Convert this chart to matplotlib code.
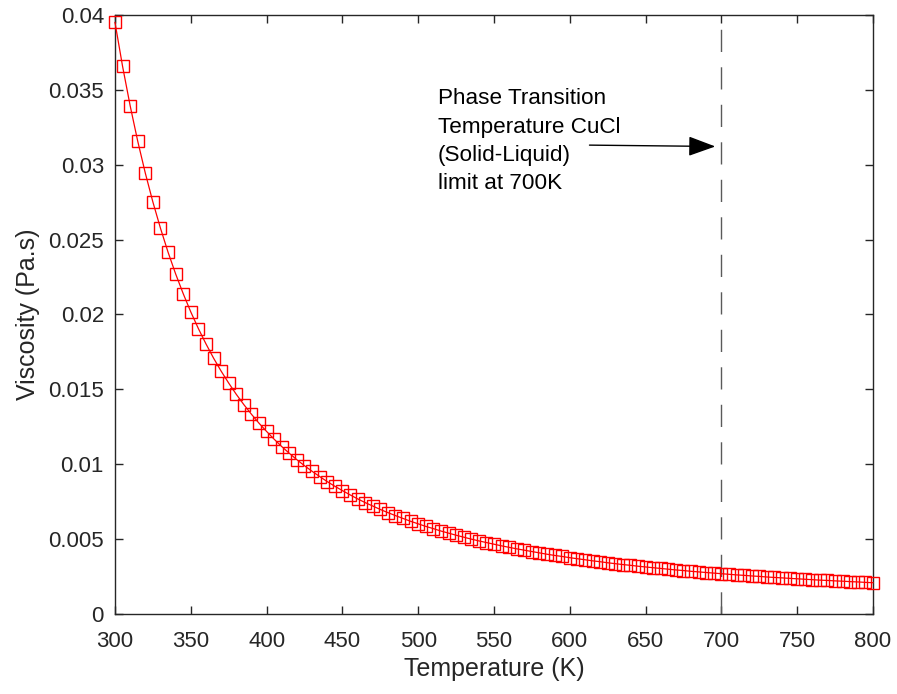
import matplotlib
matplotlib.use("Agg")
import matplotlib.pyplot as plt

# -------------------------------
# DATA
# -------------------------------
temperature = list(range(300, 805, 5))

viscosity = [
    0.03950, 0.03657, 0.03394, 0.03157, 0.02944, 0.02751, 0.02576, 0.02416,
    0.02271, 0.02139, 0.02017, 0.01906, 0.01804, 0.01709, 0.01622, 0.01542,
    0.01467, 0.01398, 0.01334, 0.01274, 0.01219, 0.01167, 0.01118, 0.01073,
    0.01030, 0.00990, 0.00953, 0.00918, 0.00884, 0.00853, 0.00824, 0.00796,
    0.00769, 0.00744, 0.00721, 0.00698, 0.00677, 0.00657, 0.00638, 0.00619,
    0.00602, 0.00585, 0.00570, 0.00554, 0.00540, 0.00526, 0.00513, 0.00500,
    0.00488, 0.00477, 0.00466, 0.00455, 0.00445, 0.00435, 0.00426, 0.00417,
    0.00408, 0.00399, 0.00391, 0.00384, 0.00376, 0.00369, 0.00362, 0.00355,
    0.00349, 0.00342, 0.00336, 0.00330, 0.00325, 0.00319, 0.00314, 0.00309,
    0.00304, 0.00299, 0.00294, 0.00290, 0.00285, 0.00281, 0.00277, 0.00273,
    0.00269, 0.00265, 0.00261, 0.00258, 0.00254, 0.00251, 0.00247, 0.00244,
    0.00241, 0.00238, 0.00235, 0.00232, 0.00229, 0.00226, 0.00224, 0.00221,
    0.00219, 0.00216, 0.00214, 0.00211, 0.00209,
]

x_ticks = [300, 350, 400, 450, 500, 550, 600, 650, 700, 750, 800]
y_ticks = [0, 0.005, 0.01, 0.015, 0.02, 0.025, 0.03, 0.035, 0.04]
y_tick_labels = ["0", "0.005", "0.01", "0.015", "0.02", "0.025", "0.03", "0.035", "0.04"]

transition_temp = 700
note_text = "Phase Transition\nTemperature CuCl\n(Solid-Liquid)\nlimit at 700K"

# -------------------------------
# STYLE
# -------------------------------
plt.rcParams["font.family"] = ["Liberation Sans", "DejaVu Sans"]
axis_color = "#262626"

fig = plt.figure(figsize=(8.97, 6.94), dpi=100)
ax = fig.add_axes([0.1282, 0.1153, 0.8450, 0.8631])

# -------------------------------
# PLOT
# -------------------------------
ax.plot(temperature, viscosity, color="red", linewidth=0.9,
        marker="s", markersize=8, markerfacecolor="none",
        markeredgecolor="red", markeredgewidth=1.0, clip_on=False, zorder=3)

ax.axvline(transition_temp, color="#5a5a5a", linewidth=1.0,
           linestyle=(0, (16, 11)), zorder=2)

ax.annotate("", xy=(696, 0.03122), xytext=(613, 0.03131),
            arrowprops=dict(arrowstyle="-|>,head_length=0.6,head_width=0.22",
                            color="black", lw=1.0, mutation_scale=28,
                            shrinkA=0, shrinkB=0))
ax.text(513, 0.0351, note_text, fontsize=16.2, color="black",
        va="top", ha="left", linespacing=1.45)

ax.set_xlim(300, 800)
ax.set_ylim(0, 0.04)
ax.set_xticks(x_ticks)
ax.set_yticks(y_ticks)
ax.set_yticklabels(y_tick_labels)

ax.tick_params(direction="in", length=6, width=1.0, colors=axis_color,
               labelsize=16, top=True, right=True)
ax.tick_params(axis="x", pad=12)
ax.tick_params(axis="y", pad=8)
for spine in ax.spines.values():
    spine.set_color(axis_color)
    spine.set_linewidth(1.0)

ax.set_xlabel("Temperature (K)", fontsize=18, color=axis_color, labelpad=4)
ax.set_ylabel("Viscosity (Pa.s)", fontsize=18, color=axis_color, labelpad=6)

fig.savefig("out.png", dpi=100)
